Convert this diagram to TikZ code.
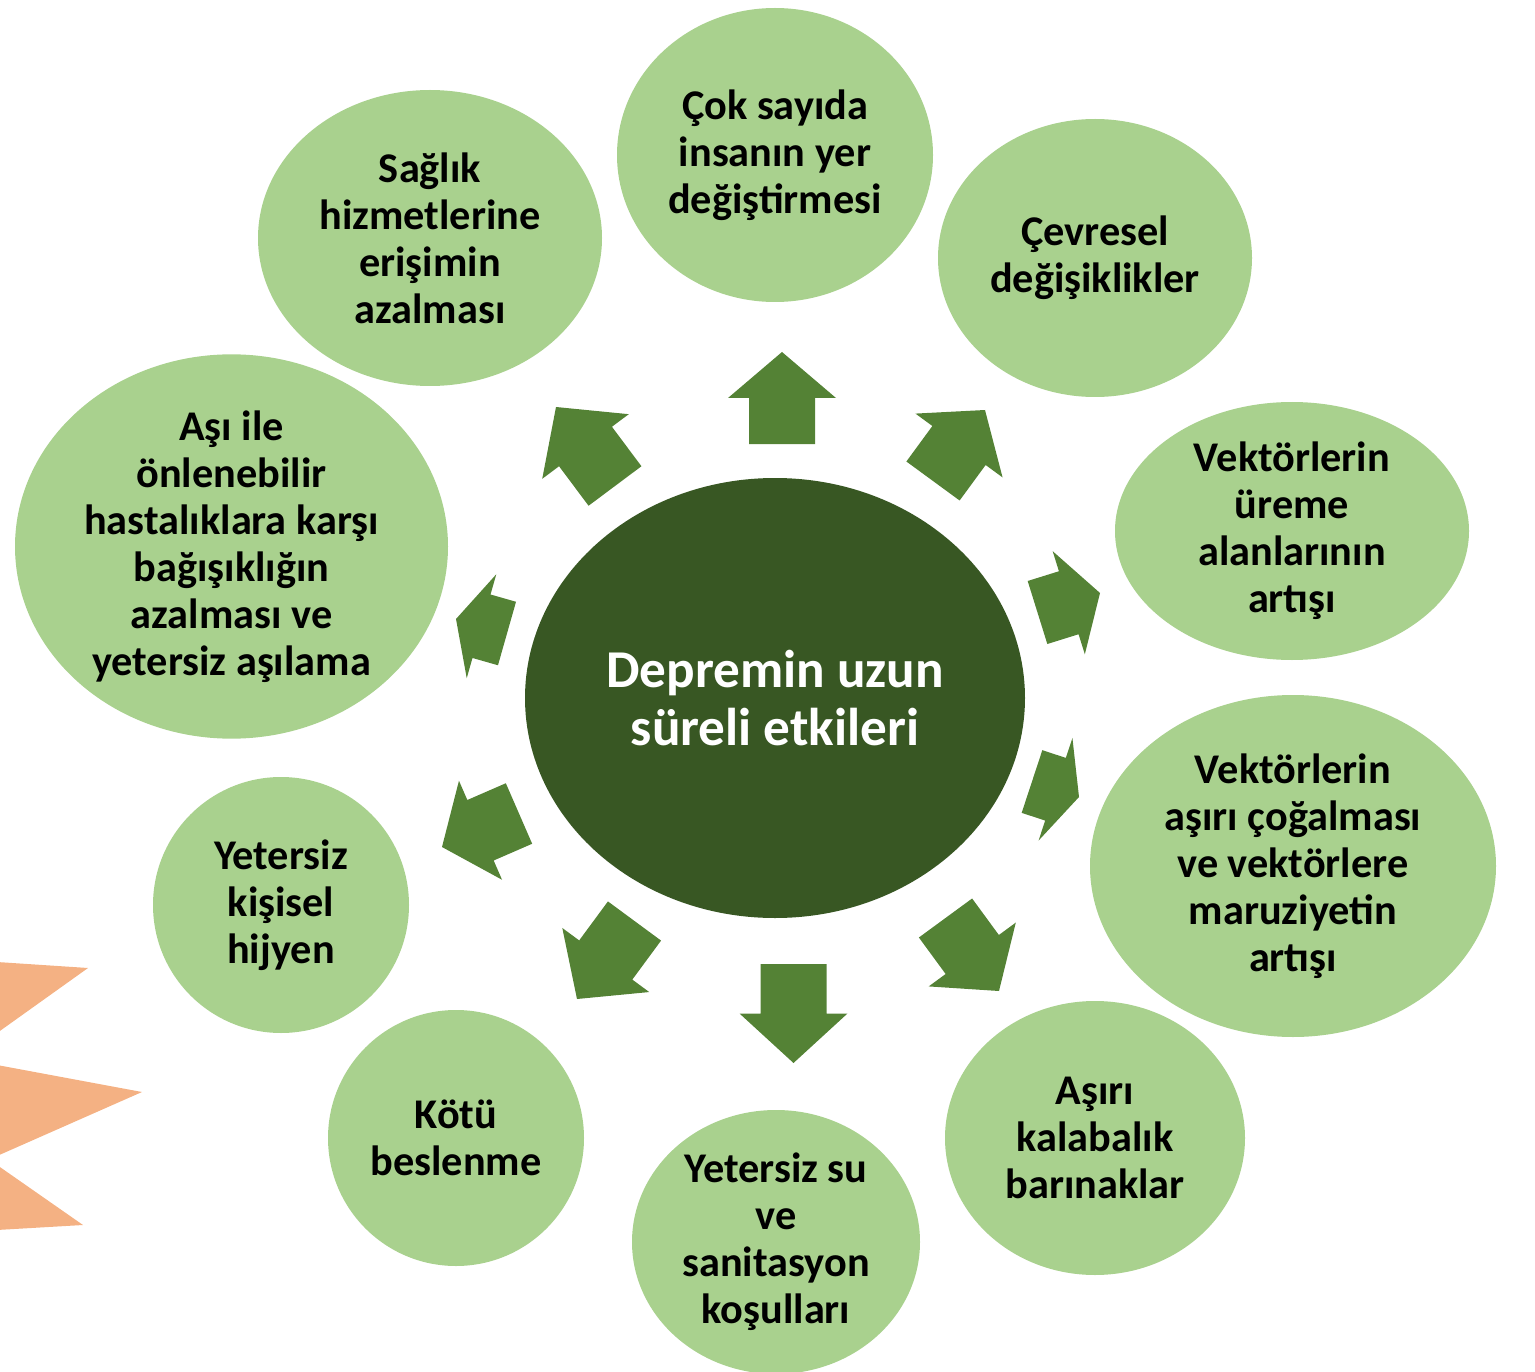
\documentclass[tikz,border=0pt]{standalone}
\usepackage{fontspec}
\setmainfont{Carlito}
\usetikzlibrary{calc,shapes.geometric}
\definecolor{cdark}{HTML}{385723}
\definecolor{carrow}{HTML}{548235}
\definecolor{clight}{HTML}{A9D18E}
\definecolor{corange}{HTML}{F4B183}
\tikzset{
  bubble/.style={ellipse, fill=clight, inner sep=0pt, align=center,
    font=\bfseries\fontsize{42.3}{47}\selectfont, text=black},
  hub/.style={ellipse, fill=cdark, inner sep=0pt, align=center,
    font=\bfseries\fontsize{53.2}{58}\selectfont, text=white},
  blockfill/.style={fill=carrow},
  spike/.style={fill=corange}
}
\newcommand\blkarrow[3]{%
  \coordinate (#1-b) at #2;
  \coordinate (#1-t) at #3;
  \coordinate (#1-m) at ($(#1-b)!0.5!(#1-t)$);
  \fill[blockfill] ($(#1-b)!33pt!90:(#1-t)$) -- ($(#1-m)!33pt!90:(#1-t)$) --
    ($(#1-m)!54pt!90:(#1-t)$) -- (#1-t) -- ($(#1-m)!54pt!-90:(#1-t)$) --
    ($(#1-m)!33pt!-90:(#1-t)$) -- ($(#1-b)!33pt!-90:(#1-t)$) -- cycle;
}
\begin{document}
\begin{tikzpicture}[x=1pt,y=-1pt]
\useasboundingbox (0,0) rectangle (1535,1372);
\begin{scope}
\clip (0,0) rectangle (1535,1372);
% orange spikes
\fill[spike] (-3,962) -- (88,968) -- (-3,1033) -- cycle;
\fill[spike] (-3,1065) -- (142,1092) -- (-3,1156) -- cycle;
\fill[spike] (-3,1165) -- (83,1225) -- (-3,1230) -- cycle;
% outer bubbles
\node[bubble, minimum width=316pt, minimum height=294pt] (n1) at (775,155) {Çok sayıda\\insanın yer\\değiştirmesi};
\node[bubble, minimum width=314pt, minimum height=278pt] (n2) at (1095,258) {Çevresel\\değişiklikler};
\node[bubble, minimum width=354pt, minimum height=258pt] (n3) at (1292,531) {Vektörlerin\\üreme\\alanlarının\\artışı};
\node[bubble, minimum width=406pt, minimum height=342pt] (n4) at (1293,866) {Vektörlerin\\aşırı çoğalması\\ve vektörlere\\maruziyetin\\artışı};
\node[bubble, minimum width=300pt, minimum height=274pt] (n5) at (1095,1138) {Aşırı\\kalabalık\\barınaklar};
\node[bubble, minimum width=288pt, minimum height=264pt] (n6) at (776,1242) {Yetersiz su\\ve\\sanitasyon\\koşulları};
\node[bubble, minimum width=256pt, minimum height=256pt] (n7) at (456,1138) {Kötü\\beslenme};
\node[bubble, minimum width=256pt, minimum height=256pt] (n8) at (281,905) {Yetersiz\\kişisel\\hijyen};
\node[bubble, minimum width=433pt, minimum height=373pt] (n9) at (231.5,546.5) {Aşı ile\\önlenebilir\\hastalıklara karşı\\bağışıklığın\\azalması ve\\yetersiz aşılama};
\node[bubble, minimum width=344pt, minimum height=296pt] (n10) at (430,238) {Sağlık\\hizmetlerine\\erişimin\\azalması};
% hub
\node[hub, minimum width=500pt, minimum height=440pt] (hub) at (775,698) {Depremin uzun\\süreli etkileri};
% arrows
\blkarrow{a1}{(782,444)}{(782,352)}
\blkarrow{a2}{(933,481)}{(985,410)}
\blkarrow{a3}{(1037.5,612.5)}{(1100,593)}
\blkarrow{a4}{(1032,781.5)}{(1079,797)}
\blkarrow{a5}{(945.5,918)}{(999,991)}
\blkarrow{a6}{(793.5,964)}{(793.5,1063)}
\blkarrow{a7}{(634.5,921)}{(577,999)}
\blkarrow{a8}{(519,813.5)}{(442,847)}
\blkarrow{a9}{(507,633.5)}{(456,619)}
\blkarrow{a10}{(615,486)}{(556,407)}
\end{scope}
\end{tikzpicture}
\end{document}
